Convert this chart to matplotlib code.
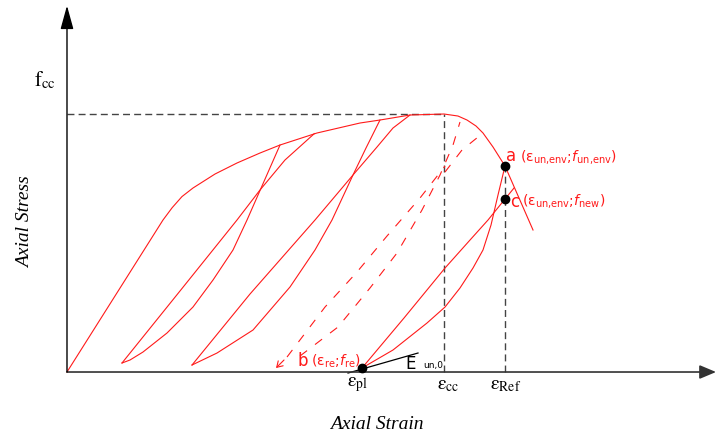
import matplotlib
matplotlib.use("Agg")
import matplotlib.pyplot as plt

# Normalised axes: strain as eps/eps_cc, stress as f/f_cc
eps_cc = 1.0
f_cc = 1.0
eps_pl = 0.7825
eps_ref = 1.1618
f_un_env = 0.7984
f_new = 0.6705
f_pl = 0.0155

# Monotonic envelope (ascending branch, peak, descending branch)
envelope_strain = [0.0, 0.2546, 0.2790, 0.3050, 0.3342, 0.3926, 0.4509, 0.5119, 0.5650,
                   0.6631, 0.7772, 0.8302, 0.9098, 1.0, 1.0371, 1.0610, 1.0849,
                   1.1034, 1.1300, 1.1618, 1.2361]
envelope_stress = [0.0, 0.5891, 0.6370, 0.6800, 0.7132, 0.7674, 0.8101, 0.8488, 0.8798,
                   0.9264, 0.9651, 0.9767, 0.9961, 1.0, 0.9922, 0.9767, 0.9535,
                   0.9264, 0.8721, 0.7984, 0.5504]

# Cycle 1
unload1_strain = [0.5650, 0.5172, 0.4775, 0.4403, 0.3873, 0.3342, 0.2653, 0.2016, 0.1671, 0.1459]
unload1_stress = [0.8798, 0.7209, 0.5891, 0.4729, 0.3566, 0.2519, 0.1512, 0.0775, 0.0465, 0.0349]
reload1_strain = [0.1459, 0.2997, 0.4509, 0.5119, 0.5782, 0.6560]
reload1_stress = [0.0349, 0.3140, 0.5891, 0.7054, 0.8217, 0.9240]

# Cycle 2
unload2_strain = [0.8302, 0.7931, 0.7586, 0.7029, 0.6578, 0.5915, 0.4934, 0.3979, 0.3316]
unload2_stress = [0.9767, 0.8682, 0.7636, 0.5891, 0.4729, 0.3295, 0.1628, 0.0736, 0.0271]
reload2_strain = [0.3316, 0.4854, 0.6578, 0.7586, 0.8223, 0.8647, 0.9098]
reload2_stress = [0.0271, 0.3023, 0.5891, 0.7636, 0.8721, 0.9457, 0.9961]

# Cycle 3: unloading from point a to eps_pl, reloading through point c
unload3_strain = [1.1618, 1.1432, 1.1247, 1.1034, 1.0769, 1.0424, 1.0027, 0.9549, 0.8647, 0.7825]
unload3_stress = [0.7984, 0.6860, 0.5698, 0.4729, 0.4031, 0.3256, 0.2519, 0.1899, 0.0853, 0.0155]
reload3_strain = [0.7825, 0.8939, 1.0027, 1.0690, 1.1167, 1.1618, 1.1857]
reload3_stress = [0.0155, 0.2093, 0.4031, 0.5116, 0.5891, 0.6705, 0.7132]

# Partial (dashed) paths towards point b
partial1_strain = [0.5836, 0.6844, 0.7692, 0.8488, 0.9363, 1.0027]
partial1_stress = [0.0581, 0.2519, 0.3876, 0.5271, 0.6744, 0.7984]
partial2_strain = [0.6180, 0.7188, 0.8037, 0.8753, 0.9416, 0.9894, 1.0239, 1.0424]
partial2_stress = [0.0620, 0.1744, 0.3256, 0.4612, 0.6279, 0.7636, 0.8798, 0.9690]
partial3_strain = [1.0027, 1.0477, 1.1034]
partial3_stress = [0.7752, 0.8605, 0.9264]

# Initial unloading modulus E_un,0 at eps_pl
e_un0_strain = [0.7454, 0.9310]
e_un0_stress = [-0.004, 0.0736]

RED = "#ff1a1a"
GUIDE = "#444444"

fig = plt.figure(figsize=(7.17, 4.37), dpi=100)
ax = fig.add_axes([0, 0, 1, 1])
ax.set_xlim(-0.1777, 1.7241)
ax.set_ylim(-0.2519, 1.4419)
ax.axis("off")

# Coordinate axes with arrowheads
ax.annotate("", xy=(1.7215, 0), xytext=(0, 0),
            arrowprops=dict(arrowstyle="-|>,head_length=1.0,head_width=0.42",
                            color="#333333", lw=1.2, shrinkA=0, shrinkB=0,
                            mutation_scale=10))
ax.annotate("", xy=(0, 1.42), xytext=(0, 0),
            arrowprops=dict(arrowstyle="-|>,head_length=1.45,head_width=0.4",
                            color="black", lw=1.0, shrinkA=0, shrinkB=0,
                            mutation_scale=10))

# Guide lines
dash_k = (0, (5, 3))
ax.plot([0, eps_cc], [f_cc, f_cc], ls=dash_k, color=GUIDE, lw=1.0)
ax.plot([eps_cc, eps_cc], [0, f_cc], ls=dash_k, color=GUIDE, lw=1.0)
ax.plot([eps_ref, eps_ref], [0, f_un_env], ls=dash_k, color=GUIDE, lw=1.0)

# Stress-strain paths
lw = 0.8
ax.plot(envelope_strain, envelope_stress, color=RED, lw=lw)
for xs, ys in [(unload1_strain, unload1_stress), (reload1_strain, reload1_stress),
               (unload2_strain, unload2_stress), (reload2_strain, reload2_stress),
               (unload3_strain, unload3_stress), (reload3_strain, reload3_stress)]:
    ax.plot(xs, ys, color=RED, lw=lw)

dash_r = (0, (8, 9))
for xs, ys in [(partial1_strain, partial1_stress), (partial2_strain, partial2_stress),
               (partial3_strain, partial3_stress)]:
    ax.plot(xs, ys, color=RED, lw=lw, ls=dash_r)
ax.annotate("", xy=(0.5544, 0.0155), xytext=(0.5756, 0.0465),
            arrowprops=dict(arrowstyle="->,head_length=0.4,head_width=0.25",
                            color=RED, lw=0.8, shrinkA=0, shrinkB=0))

ax.plot(e_un0_strain, e_un0_stress, color="black", lw=0.9)

# Key points
ax.plot([eps_ref, eps_ref, eps_pl], [f_un_env, f_new, f_pl], "o",
        color="black", ms=6, zorder=5)

# Texts
serif = "Liberation Serif"
ax.text(-0.0584, 1.1318, r"$\mathrm{f}_{\mathrm{cc}}$", fontsize=15,
        ha="center", va="center", math_fontfamily="stix")
ax.text(-0.1100, 0.5814, "Axial Stress", family=serif, style="italic",
        fontsize=14, rotation=90, ha="center", va="center")
ax.text(0.8223, -0.2016, "Axial Strain", family=serif, style="italic",
        fontsize=14, ha="center", va="center")

for xpos, lab in [(0.7719, "pl"), (1.0106, "cc"), (1.1645, "Ref")]:
    ax.text(xpos, -0.0465, r"$\mathrm{\varepsilon}_{\mathrm{%s}}$" % lab,
            fontsize=14, ha="center", va="center", math_fontfamily="stix")

lab_kw = dict(color=RED, va="center", ha="left", math_fontfamily="dejavusans")
ax.text(1.1645, 0.8372, "a", fontsize=12, **lab_kw)
ax.text(1.2016, 0.8333,
        r"$(\mathrm{\varepsilon}_{\mathrm{un{,}env}}\mathrm{;}\!f_{\mathrm{un{,}env}})$",
        fontsize=10, **lab_kw)
ax.text(1.1751, 0.6589, "c", fontsize=12, **lab_kw)
ax.text(1.2069, 0.6628,
        r"$(\mathrm{\varepsilon}_{\mathrm{un{,}env}}\mathrm{;}\!f_{\mathrm{new}})$",
        fontsize=10, **lab_kw)
ax.text(0.6101, 0.0426, "b", fontsize=12, **lab_kw)
ax.text(0.6472, 0.0426, r"$(\mathrm{\varepsilon}_{\mathrm{re}}\mathrm{;}\!f_{\mathrm{re}})$",
        fontsize=10, **lab_kw)

ax.text(0.8966, 0.0310, "E", fontsize=12, ha="left", va="center")
ax.text(0.9443, 0.0233, "un,0", fontsize=6.5, ha="left", va="center")

fig.savefig("out.png", dpi=100)
